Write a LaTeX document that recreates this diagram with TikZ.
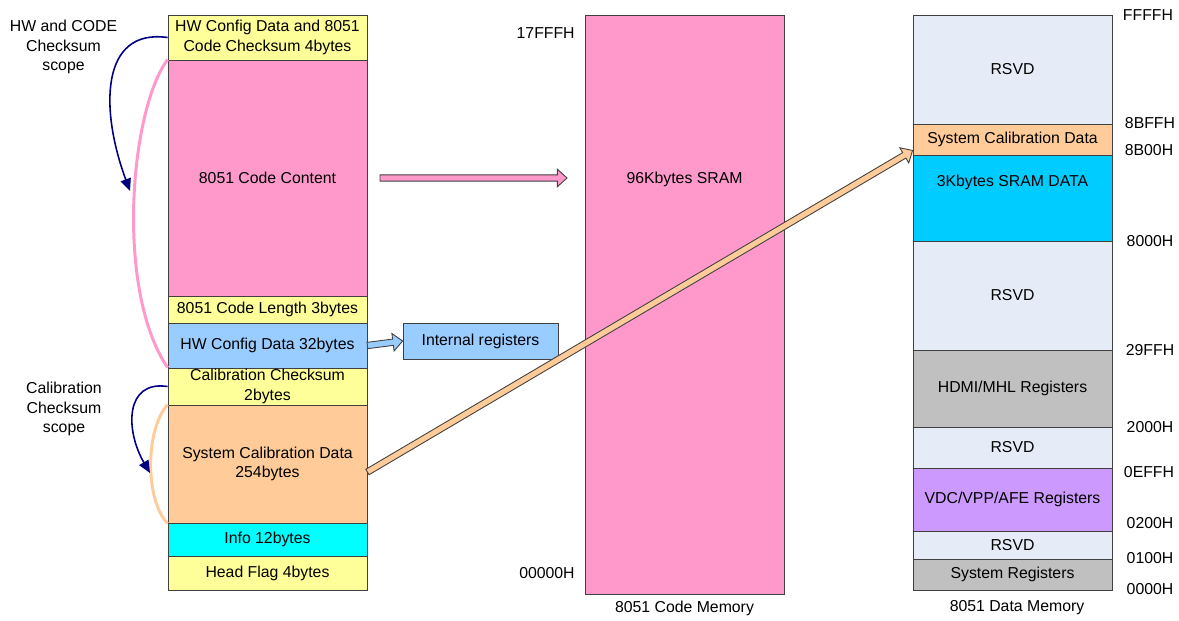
\documentclass[tikz,border=0pt]{standalone}
\usepackage{fontspec}
\setmainfont{Liberation Sans}
\usetikzlibrary{calc,arrows.meta}
\definecolor{cyel}{HTML}{FFFF99}
\definecolor{cpink}{HTML}{FF99CC}
\definecolor{cblue}{HTML}{99CCFF}
\definecolor{corange}{HTML}{FFCC99}
\definecolor{ccyan}{HTML}{00FFFF}
\definecolor{csky}{HTML}{00CCFF}
\definecolor{crsvd}{HTML}{E6ECF7}
\definecolor{cgray}{HTML}{C0C0C0}
\definecolor{cviolet}{HTML}{CC99FF}
\definecolor{cnavy}{HTML}{000080}
\tikzset{cell/.style={draw=black!75,line width=0.5pt,minimum width=3.98cm,inner sep=0pt,align=center}}
\tikzset{scopearrow/.style={cnavy,line width=0.9pt,-{Triangle[length=7pt,width=6pt]}}}
\tikzset{scopespan/.style={line width=1.7pt}}
\tikzset{addr/.style={inner sep=0pt}}
\newcommand{\blockarrow}[3]{%
  \coordinate (bahead) at ($(#3)!5.5pt!(#2)$);
  \filldraw[fill=#1,draw=black!75,line width=0.5pt,line join=miter]
    ($(#2)!1.8pt!90:(#3)$) -- ($(bahead)!1.8pt!90:(#3)$) -- ($(bahead)!5pt!90:(#3)$) -- (#3)
    -- ($(bahead)!5pt!-90:(#3)$) -- ($(bahead)!1.8pt!-90:(#3)$) -- ($(#2)!1.8pt!-90:(#3)$) -- cycle;}

\begin{document}
\begin{tikzpicture}[x=0.02cm,y=-0.02cm,font=\fontsize{9}{11}\selectfont]
  \useasboundingbox (0,0) rectangle (1179,620);
  \node[cell,fill=cyel,minimum height=0.9cm] (hwck) at (267.5,37.5) {HW Config Data and 8051\\Code Checksum 4bytes};
  \node[cell,fill=cpink,minimum height=4.72cm] (code) at (267.5,178) {8051 Code Content};
  \node[cell,fill=cyel,minimum height=0.54cm] (codelen) at (267.5,309.5) {8051 Code Length 3bytes};
  \node[cell,fill=cblue,minimum height=0.9cm] (hwcfg) at (267.5,345.5) {HW Config Data 32bytes};
  \node[cell,fill=cyel,minimum height=0.74cm] (calck) at (267.5,386.5) {Calibration Checksum\\2bytes};
  \node[cell,fill=corange,minimum height=2.36cm] (cal) at (267.5,464) {System Calibration Data\\254bytes};
  \node[cell,fill=ccyan,minimum height=0.66cm] (info) at (267.5,539.5) {Info 12bytes};
  \node[cell,fill=cyel,minimum height=0.68cm] (head) at (267.5,573) {Head Flag 4bytes};
  \node[align=center] (hwscope) at (63.5,47) {HW and CODE\\Checksum\\scope};
  \node[align=center] (calscope) at (64,409) {Calibration\\Checksum\\scope};

  \node[cell,fill=cblue,minimum width=3.1cm,minimum height=0.72cm] (intreg) at (480.5,341) {Internal registers};

  \node[cell,fill=cpink,minimum height=11.58cm,label={[anchor=center,yshift=-93.6pt]north:96Kbytes SRAM}] (sram) at (684.5,304.5) {};
  \node[addr,anchor=east] (a17fff) at (575,33) {17FFFH};
  \node[addr,anchor=east] (a00000) at (575,573) {00000H};
  \node (codemem) at (684.5,608) {8051 Code Memory};

  \node[cell,fill=crsvd,minimum height=2.18cm] (rsvda) at (1012.5,69.5) {RSVD};
  \node[cell,fill=corange,minimum height=0.62cm] (sysc) at (1012.5,139.5) {System Calibration Data};
  \node[cell,fill=csky,minimum height=1.72cm,label={[anchor=center,yshift=-15.9pt]north:3Kbytes SRAM DATA}] (sdata) at (1012.5,198) {};
  \node[cell,fill=crsvd,minimum height=2.18cm] (rsvdb) at (1012.5,295.5) {RSVD};
  \node[cell,fill=cgray,minimum height=1.54cm] (hdmi) at (1012.5,388.5) {HDMI/MHL Registers};
  \node[cell,fill=crsvd,minimum height=0.82cm] (rsvdc) at (1012.5,447.5) {RSVD};
  \node[cell,fill=cviolet,minimum height=1.26cm] (vdc) at (1012.5,499.5) {VDC/VPP/AFE Registers};
  \node[cell,fill=crsvd,minimum height=0.56cm] (rsvdd) at (1012.5,545) {RSVD};
  \node[cell,fill=cgray,minimum height=0.62cm] (sysreg) at (1012.5,574.5) {System Registers};
  \node (datamem) at (1017,608) {8051 Data Memory};
  \node[addr] (affff) at (1148,15) {FFFFH};
  \node[addr] (a8bff) at (1150,123) {8BFFH};
  \node[addr] (a8b00) at (1149,150) {8B00H};
  \node[addr] (a8000) at (1150,241) {8000H};
  \node[addr] (a29ff) at (1150,350) {29FFH};
  \node[addr] (a2000) at (1150,427) {2000H};
  \node[addr] (a0eff) at (1149,472) {0EFFH};
  \node[addr] (a0200) at (1150,523) {0200H};
  \node[addr] (a0100) at (1150,558) {0100H};
  \node[addr] (a0000) at (1150,589) {0000H};

  \coordinate (hwtip) at (130,191);
  \coordinate (caltip) at (150,473);
  \draw[scopespan,cpink] (code.north west) .. controls (130,110) and (115,290) .. (calck.north west);
  \draw[scopespan,corange] (cal.north west) .. controls (145,430) and (145,500) .. (cal.south west);
  \draw[scopearrow] (hwck.west) .. controls (100,28) and (100,110) .. (hwtip);
  \draw[scopearrow] (calck.west) .. controls (125,380) and (125,430) .. (caltip);

  \coordinate (codeout) at (380,178);
  \coordinate (sramin) at (567,178);
  \blockarrow{cpink}{codeout}{sramin}
  \blockarrow{cblue}{hwcfg.east}{intreg.west}
  \coordinate (calout) at ($(cal.east)+(0,8)$);
  \coordinate (syscin) at ($(sysc.south west)+(0,-5)$);
  \blockarrow{corange}{calout}{syscin}
\end{tikzpicture}
\end{document}
